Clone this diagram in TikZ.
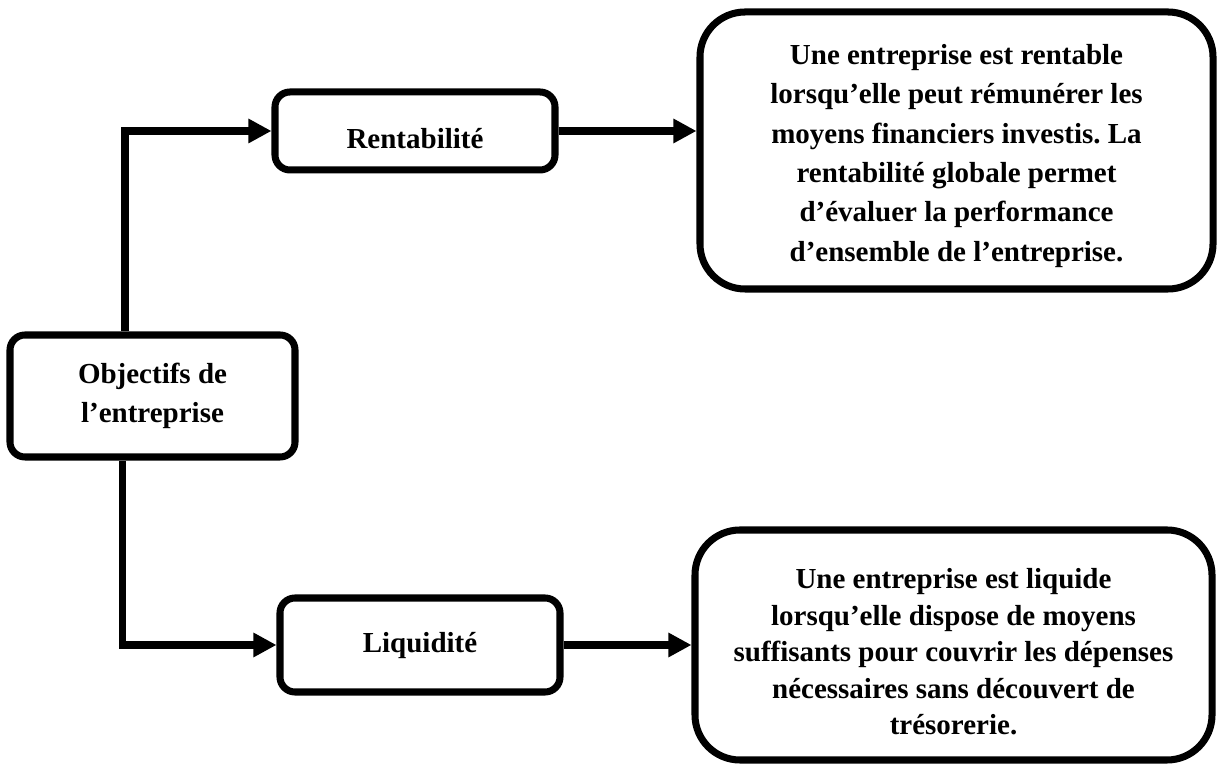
\documentclass[tikz,border=0pt]{standalone}
\usepackage{fontspec}
\setmainfont{Liberation Serif}
\usepackage{tikz}
\usetikzlibrary{arrows.meta}
\frenchspacing
\newcommand{\lowtext}[2]{\raisebox{-#1}[0pt][0pt]{\begin{tabular}{@{}c@{}}#2\end{tabular}}}

\begin{document}
\begin{tikzpicture}[
    smallbox/.style={draw=black,line width=4pt,rounded corners=0.3cm,align=center,
        font=\bfseries\fontsize{16.5}{21.8}\selectfont},
    bigbox/.style={draw=black,line width=4pt,rounded corners=0.9cm,align=center,
        font=\bfseries\fontsize{16.5}{22.4}\selectfont},
    link/.style={line width=4.5pt,-{Triangle[length=0.46cm,width=0.46cm]}}]
            \useasboundingbox (0,0) rectangle (24.34,15.34);
            \node [smallbox,minimum width=5.7cm,minimum height=2.44cm] (obj) at (3.05,7.42) {Objectifs de\\l’entreprise};
            \node [smallbox,minimum width=5.6cm,minimum height=1.56cm] (rent) at (8.30,12.72) {\lowtext{0.34cm}{Rentabilité}};
            \node [smallbox,minimum width=5.6cm,minimum height=1.88cm] (liq) at (8.40,2.44) {\lowtext{0.14cm}{Liquidité}};
            \node [bigbox,minimum width=10.26cm,minimum height=5.54cm] (rdef) at (19.13,12.33) {\lowtext{0.24cm}{Une entreprise est rentable\\lorsqu’elle peut rémunérer les\\moyens financiers investis. La\\rentabilité globale permet\\d’évaluer la performance\\d’ensemble de l’entreprise.}};
            \node [bigbox,minimum width=10.34cm,minimum height=4.6cm,font=\bfseries\fontsize{16.5}{20.8}\selectfont] (ldef) at (19.07,2.44) {\lowtext{0.34cm}{Une entreprise est liquide\\lorsqu’elle dispose de moyens\\suffisants pour couvrir les dépenses\\nécessaires sans découvert de\\trésorerie.}};
            \draw [link] ([xshift=-0.55cm]obj.north) |- (rent.west);
            \draw [link] ([xshift=-0.6cm]obj.south) |- (liq.west);
            \draw [link] (rent.east) -- (rent.east -| rdef.west);
            \draw [link] (liq.east) -- (liq.east -| ldef.west);
        \end{tikzpicture}
\end{document}
